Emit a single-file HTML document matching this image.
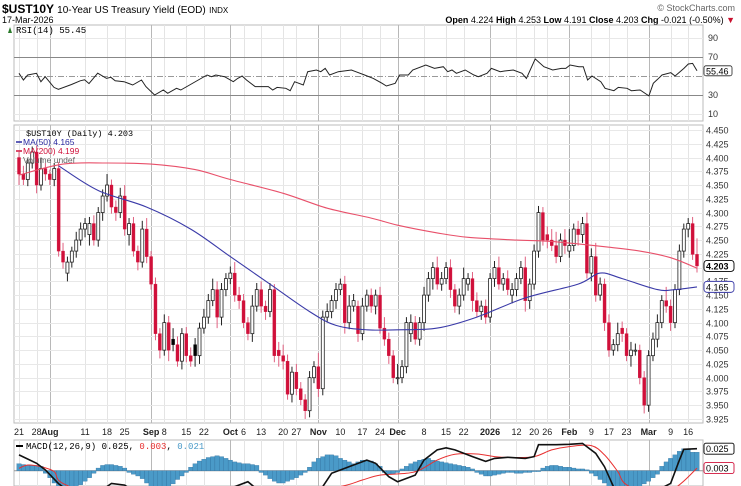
<!DOCTYPE html>
<html><head><meta charset="utf-8"><style>
html,body{margin:0;padding:0;background:#fff;}
svg{display:block;font-family:"Liberation Sans",sans-serif;}
</style></head><body>
<svg id="chart" width="741" height="486" viewBox="0 0 741 486" xmlns="http://www.w3.org/2000/svg">
<rect x="0" y="0" width="741" height="486" fill="#fff"/>
<g>
<text x="2" y="13" font-size="12" font-weight="bold">$UST10Y <tspan font-weight="normal" font-size="10">10-Year US Treasury Yield (EOD)</tspan> <tspan font-weight="normal" font-size="8">INDX</tspan></text>
<text x="735" y="11" font-size="9" fill="#666" text-anchor="end">© StockCharts.com</text>
<text x="2" y="23" font-size="9">17-Mar-2026</text>
<text x="735" y="23" font-size="9" text-anchor="end"><tspan font-weight="bold">Open</tspan> 4.224 <tspan font-weight="bold">High</tspan> 4.253 <tspan font-weight="bold">Low</tspan> 4.191 <tspan font-weight="bold">Close</tspan> 4.203 <tspan font-weight="bold">Chg</tspan> -0.021 (-0.50%) <tspan fill="#c8102e">▼</tspan></text>
</g>
<g id="grid"></g>
<g id="rsi"></g>
<g id="price"></g>
<g id="dates"></g>
<g id="macd"></g>
</svg>
<script>
const close=[4.37,4.36,4.39,4.41,4.35,4.38,4.37,4.36,4.38,4.23,
4.21,4.21,4.23,4.25,4.27,4.28,4.28,4.25,4.30,4.33,
4.35,4.31,4.30,4.33,4.27,4.28,4.23,4.21,4.27,4.22,
4.17,4.08,4.05,4.10,4.05,4.06,4.03,4.08,4.04,4.03,
4.04,4.09,4.11,4.14,4.16,4.11,4.16,4.18,4.19,4.15,
4.14,4.10,4.08,4.13,4.16,4.13,4.12,4.16,4.04,4.04,
4.03,3.97,4.01,3.98,3.96,3.94,4.00,4.02,3.98,4.11,
4.12,4.14,4.16,4.17,4.10,4.13,4.14,4.08,4.13,4.15,
4.13,4.15,4.09,4.07,4.04,4.00,4.00,4.02,4.10,4.10,
4.07,4.10,4.15,4.18,4.20,4.17,4.18,4.20,4.16,4.13,
4.15,4.18,4.18,4.14,4.12,4.13,4.11,4.18,4.20,4.17,
4.18,4.16,4.16,4.18,4.20,4.14,4.17,4.23,4.30,4.25,
4.25,4.24,4.22,4.25,4.24,4.24,4.27,4.26,4.28,4.19,
4.22,4.15,4.17,4.10,4.05,4.06,4.08,4.08,4.04,4.05,
4.05,4.00,3.95,4.04,4.07,4.10,4.14,4.13,4.10,4.16,
4.23,4.27,4.28,4.224,4.203];
const open=[4.40,4.37,4.36,4.39,4.41,4.35,4.38,4.37,4.36,4.38,
4.23,4.19,4.21,4.23,4.25,4.27,4.26,4.28,4.25,4.30,
4.33,4.35,4.31,4.30,4.33,4.26,4.28,4.23,4.21,4.27,
4.22,4.17,4.08,4.05,4.10,4.07,4.06,4.03,4.08,4.04,
4.06,4.04,4.09,4.11,4.14,4.16,4.11,4.16,4.18,4.19,
4.15,4.14,4.10,4.08,4.13,4.16,4.13,4.12,4.16,4.05,
4.04,4.03,3.97,4.01,3.98,3.96,3.94,4.00,4.02,3.98,
4.11,4.12,4.14,4.16,4.17,4.10,4.13,4.13,4.08,4.13,
4.15,4.13,4.15,4.09,4.07,4.04,4.00,4.00,4.02,4.08,
4.10,4.07,4.10,4.15,4.18,4.20,4.17,4.18,4.20,4.16,
4.13,4.15,4.17,4.18,4.14,4.12,4.13,4.11,4.18,4.20,
4.17,4.18,4.15,4.16,4.18,4.20,4.14,4.17,4.23,4.30,
4.26,4.25,4.24,4.22,4.25,4.23,4.24,4.27,4.26,4.28,
4.19,4.22,4.15,4.17,4.10,4.05,4.06,4.09,4.08,4.04,
4.05,4.05,4.00,3.95,4.04,4.07,4.10,4.14,4.13,4.10,
4.16,4.23,4.27,4.28,4.224];
const upWick=[10,15,8,10,12,20,10,8,10,12,15,10,8,15,12,10,12,15,10,12,20,10,12,15,20,10,12,10,15,20,10,12,10,15,12,20,15,10,12,15,12,10,15,12,20,15,12,10,12,20,15,12,10,20,12,15,10,12,10,15,20,12,10,15,12,10,12,10,25,12,15,10,12,10,15,20,12,10,15,10,12,10,15,20,12,10,25,12,10,15,12,10,15,12,10,20,12,10,15,10,12,20,10,12,15,10,12,10,12,20,10,15,12,10,12,20,10,12,12,10,15,20,25,12,20,30,10,15,12,20,15,25,12,10,15,10,20,12,10,15,12,10,12,10,12,15,10,25,12,10,12,10,10,12,29];
const downWick=[20,10,12,10,15,10,12,10,12,10,12,15,10,12,10,15,20,10,12,15,10,12,15,10,12,20,10,15,10,12,10,12,15,10,20,12,10,15,12,10,20,15,10,12,10,20,15,12,10,12,15,10,12,15,10,12,15,10,12,20,15,10,15,12,10,15,12,10,15,12,10,12,15,10,20,12,10,15,12,10,12,15,10,12,15,10,12,10,12,15,10,12,15,12,20,10,12,10,15,12,15,10,12,20,10,15,12,10,15,10,12,10,15,12,10,20,15,10,12,10,15,10,12,10,15,12,10,20,15,10,15,12,10,15,12,10,12,15,10,20,10,12,15,12,10,15,10,12,15,10,10,12,15,10,12];
const maIdx=[0,10,20,30,40,48,60,70,80,86,95,102,113,120,127,134,141,148,154];
const ma200=[4.368,4.388,4.39,4.388,4.378,4.36,4.335,4.308,4.29,4.277,4.263,4.255,4.25,4.248,4.243,4.237,4.23,4.218,4.199];
const ma50Idx=[9,18,29,39,48,57,66,72,79,86,95,104,115,127,132,137,145,149,154];
const ma50=[4.385,4.34,4.31,4.27,4.22,4.17,4.12,4.095,4.087,4.087,4.09,4.11,4.145,4.17,4.19,4.18,4.16,4.16,4.165];
const priceTicks=[4.450,4.425,4.400,4.375,4.350,4.325,4.300,4.275,4.250,4.225,4.200,4.175,4.150,4.125,4.100,4.075,4.050,4.025,4.000,3.975,3.950,3.925];
const rsiIdx=[0,1,2,4,5,6,8,9,12,14,15,16,18,20,21,22,24,26,28,29,31,33,34,36,37,39,41,43,44,45,47,49,50,51,52,54,57,58,59,61,62,63,65,66,68,69,70,71,73,76,77,79,81,83,84,86,87,89,90,93,95,97,98,99,100,102,104,105,107,108,110,111,113,115,116,118,120,122,124,125,126,128,129,130,131,133,134,136,137,139,140,142,144,145,146,147,149,150,152,153,154,155];
const rsiVal=[52.8,45.8,51,52.8,44,49.3,38,36,41,45,46,42,53,47.5,48.6,45,44,40.5,45.8,38.8,30,35.3,31.8,37,35.3,40.5,45.8,51,49.3,51,49.3,44,47.5,50,45.8,38.8,38.8,35.3,38,37,34.5,44,40.5,54.5,56.3,54.5,58,51,54.5,56.3,54.5,51,47.5,42.3,39.5,42.3,51,51,56.3,61.6,58,59.8,54.5,56.3,52.8,56.3,51,49.3,52.8,58,54.5,55.3,56.3,52.8,47.5,68,59.8,56.3,58,58,61.6,59.8,59.8,45.8,50,44,37,34.5,38,37,34.5,35.3,29,42.3,46.5,51,53.5,50,58,62.6,63.3,55.45];
const rsiTicks=[90,70,50,30,10];
const hist=[8,7,6,6,6,5,-3,-8,-14,-20,-25,-25,-24,-20,-16,-12,-8,-3,3,6,7,7,6,5,3,-2,-4,-6,-9,-14,-18,-20,-22,-20,-18,-15,-10,-6,-2,4,8,11,13,15,16,17,16,14,12,10,9,8,8,7,6,-2,-5,-9,-12,-14,-14,-12,-10,-8,-5,-2,4,10,14,16,18,18,17,14,12,10,8,10,12,12,11,8,5,-2,-4,-4,-2,2,5,8,10,12,13,14,12,11,10,9,8,7,6,5,4,2,-2,-4,-6,-6,-5,-4,-3,-2,-2,-3,-3,-2,-2,-1,-1,3,5,6,6,5,4,4,3,2,2,1,-3,-6,-10,-14,-18,-22,-25,-25,-24,-22,-20,-18,-15,-12,-8,-4,5,10,14,18,22,25,24,21,21];
const macdIdx=[0,4,6,9,13,18,21,24,28,40,48,52,55,62,67,69,71,76,79,81,84,86,90,92,95,97,99,103,106,108,111,115,117,118,122,125,128,131,133,135,140,148,150,151,154];
const macdVal=[18,8.4,0.8,-14.8,-30,-25,-14.4,-16.4,-30,-35,-20,-12.5,-25,-30,-25,-18,-3,6.5,12,8.4,-6.8,-12.5,-5,12,23.6,26,23.6,16,10.6,14,15.2,14,16,29.6,29.6,30,31,19.8,4.6,-18,-35,-14.4,12,24.3,25];
const sigIdx=[0,2,5,8,10,20,40,60,73,78,82,88,91,95,99,104,108,112,117,121,125,130,133,136,138,145,150,154];
const sigVal=[2.7,6.5,4.6,-1,-14.4,-30,-30,-28,-18,-10.6,-5,-3,0.8,12,18.6,19,16,15,16,23.6,27.4,28.5,17.9,-1,-16,-30,-16,3];
const dateIdx=[0,4,7,15,20,24,30,33,38,42,48,51,55,60,63,68,73,78,82,86,92,97,101,107,113,117,120,125,130,134,138,143,148,152];
const dateLbl=["21","28","Aug","11","18","25","Sep","8","15","22","Oct","6","13","20","27","Nov","10","17","24","Dec","8","15","22","2026","12","20","26","Feb","9","17","23","Mar","9","16"];
const dateMajor=[0,0,1,0,0,0,1,0,0,0,1,0,0,0,0,1,0,0,0,1,0,0,0,1,0,0,0,1,0,0,0,1,0,0];

const NS="http://www.w3.org/2000/svg";
function mk(p,tag,at){const e=document.createElementNS(NS,tag);for(const k in at)e.setAttribute(k,at[k]);p.appendChild(e);return e;}
const N=close.length, L=14, R=703;
function xC(i){return 19+i*(678/(N-1));}
function yP(p){return 130+(4.45-p)*550.4;}
function yR(v){return 57+(70-v)*0.95;}
function yM(v){return 470.7-v*0.88;}
function smooth(pts){
 let d='M'+pts[0][0].toFixed(1)+','+pts[0][1].toFixed(1);
 for(let i=0;i<pts.length-1;i++){
  const p0=pts[i-1]||pts[i],p1=pts[i],p2=pts[i+1],p3=pts[i+2]||p2;
  const c1x=p1[0]+(p2[0]-p0[0])/6,c1y=p1[1]+(p2[1]-p0[1])/6;
  const c2x=p2[0]-(p3[0]-p1[0])/6,c2y=p2[1]-(p3[1]-p1[1])/6;
  d+=' C'+c1x.toFixed(1)+','+c1y.toFixed(1)+' '+c2x.toFixed(1)+','+c2y.toFixed(1)+' '+p2[0].toFixed(1)+','+p2[1].toFixed(1);
 }
 return d;
}

const grid=document.getElementById('grid');
const panels=[[25,121],[125,423],[440,486]];
panels.forEach(function(pp,k){
 const r=mk(grid,'rect',{x:L,y:pp[0],width:R-L,height:pp[1]-pp[0],fill:'#fff',stroke:'#bbb','stroke-width':1});
 
 
});
dateIdx.forEach(function(d,k){
 const x=Math.round(xC(d))+0.5;
 panels.forEach(function(pp){
  const l=mk(grid,'line',{x1:x,x2:x,y1:pp[0],y2:pp[1],stroke:dateMajor[k]?'#b8b8b8':'#e4e4e4','stroke-width':1});
  
  
 });
});
priceTicks.forEach(function(t){
 const y=Math.round(yP(t))+0.5;
 const l=mk(grid,'line',{x1:L,x2:R,y1:y,y2:y,stroke:'#e8e8e8'});
 
 
 const tx=mk(grid,'text',{x:706,y:y+3,'font-size':9,fill:'#333'});
 tx.textContent=t.toFixed(3);
 
 
});

const rg=document.getElementById('rsi');
[10,30,50,70,90].forEach(function(v){
 const y=Math.round(yR(v))+0.5;
 const l=mk(rg,'line',{x1:L,x2:R,y1:y,y2:y,stroke:(v==30||v==70)?'#888':(v==50?'#999':'#e8e8e8'),'stroke-dasharray':v==50?'6,2,1,2':'none'});
 
 
});
rsiTicks.forEach(function(v){
 if(v==50)return;
 const t=mk(rg,'text',{x:708,y:yR(v)+3,'font-size':9,fill:'#333'});
 t.textContent=v;
 
 
});
const rsiX=function(i){return 19+i*(678/155);};
const rp=mk(rg,'polyline',{points:rsiIdx.map(function(d,k){return rsiX(d).toFixed(1)+','+yR(rsiVal[k]).toFixed(1);}).join(' '),fill:'none',stroke:'#222','stroke-width':1});


const rb=mk(rg,'rect',{x:704,y:yR(55.45)-5,width:28,height:10,fill:'#fff',stroke:'#222','stroke-width':0.8,rx:2});


const rbt=mk(rg,'text',{x:706,y:yR(55.45)+3.5,'font-size':9});
rbt.textContent='55.46';


const rl=mk(rg,'text',{x:16,y:33,'font-size':9,'font-family':'Liberation Mono, monospace'});
rl.textContent='RSI(14) 55.45';


const rlIcon=mk(rg,'path',{d:'M8 33 L10 27 L12 33 Z',fill:'#2a7a2a'});



const pg=document.getElementById('price');
const clipDef=mk(pg,'clipPath',{id:'pclip'});
mk(clipDef,'rect',{x:L,y:125,width:R-L,height:298});
const inner=mk(pg,'g',{'clip-path':'url(#pclip)'});
for(let i=0;i<N;i++){
 const o=open[i],c=close[i];
 const hi=Math.max(o,c)+upWick[i]/1000, lo=Math.min(o,c)-downWick[i]/1000;
 const up=c>=o;
 const prev=i>0?close[i-1]:o;
 const col=up?'#000':(c>prev?'#000':'#d0103a');
 const fill=up?'#fff':col;
 const x=xC(i);
 const w=mk(inner,'line',{x1:x,x2:x,y1:yP(hi),y2:yP(lo),stroke:up?'#222':(col=='#000'?'#222':'#e06080'),'stroke-width':1});
 
 
 const yt=yP(Math.max(o,c)), yb=yP(Math.min(o,c));
 const b=mk(inner,'rect',{x:x-1.5,y:yt,width:3,height:Math.max(1,yb-yt),fill:fill,stroke:up?'#222':col,'stroke-width':up?0.8:0.4});
 
 
}
const m200=mk(inner,'path',{d:smooth(maIdx.map(function(d,k){return [xC(d),yP(ma200[k])];})),fill:'none',stroke:'#e8506a','stroke-width':1.1});


const m50=mk(inner,'path',{d:smooth(ma50Idx.map(function(d,k){return [xC(d),yP(ma50[k])];})),fill:'none',stroke:'#3a3aa8','stroke-width':1.1});


[['4.203',4.203,'#000'],['4.165',4.165,'#3a3aa8']].forEach(function(a){
 const y=yP(a[1]);
 const bx=mk(pg,'rect',{x:704,y:y-5.5,width:30,height:11,fill:'#fff',stroke:a[2],'stroke-width':0.9,rx:3});
 
 
 const t=mk(pg,'text',{x:706,y:y+3.5,'font-size':9,'font-weight':a[2]=='#000'?'bold':'normal',fill:'#000'});
 t.textContent=a[0];
 
 
});
const legRows=[['$UST10Y (Daily) 4.203','#000'],['MA(50) 4.165','#2a2aa0'],['MA(200) 4.199','#d0103a'],['Volume undef','#666']];
legRows.forEach(function(r,k){
 const t=mk(pg,'text',{x:k==0?26:23,y:136+k*9,'font-size':8.5,fill:r[1],'font-family':k==0?'Liberation Mono, monospace':'Liberation Sans, sans-serif'});
 t.textContent=r[0];
 
 
 if(k==1||k==2){const l=mk(pg,'line',{x1:16,x2:22,y1:133+k*9,y2:133+k*9,stroke:r[1],'stroke-width':1.5});
 
 }
});

const dg=document.getElementById('dates');
dateIdx.forEach(function(d,k){
 const t=mk(dg,'text',{x:xC(d),y:435,'font-size':9,'text-anchor':'middle','font-weight':dateMajor[k]?'bold':'normal',fill:'#222'});
 t.textContent=dateLbl[k];
 
 
});

const mg=document.getElementById('macd');
const mc=mk(mg,'clipPath',{id:'mclip'});
mk(mc,'rect',{x:L,y:440,width:R-L,height:46});
const mi=mk(mg,'g',{'clip-path':'url(#mclip)'});
const zl=mk(mi,'line',{x1:L,x2:R,y1:470.7,y2:470.7,stroke:'#999'});


const bw=678/(N-1);
for(let i=0;i<hist.length;i++){
 const y0=yM(0), y1=yM(hist[i]);
 const b=mk(mi,'rect',{x:xC(i)-bw/2,y:Math.min(y0,y1),width:bw,height:Math.abs(y1-y0),fill:'#4a9ac8',stroke:'#2a6a98','stroke-width':0.3});
 
 
}
const sl=mk(mi,'path',{d:smooth(sigIdx.map(function(d,k){return [xC(d),yM(sigVal[k])];})),fill:'none',stroke:'#e83030','stroke-width':1});


const ml=mk(mi,'polyline',{points:macdIdx.map(function(d,k){return xC(d).toFixed(1)+','+yM(macdVal[k]).toFixed(1);}).join(' '),fill:'none',stroke:'#111','stroke-width':1.6});


[['0.025',25,'#000'],['0.003',3,'#d0103a']].forEach(function(a){
 const y=yM(a[1]);
 const bx=mk(mg,'rect',{x:704,y:y-5.5,width:30,height:11,fill:'#fff',stroke:a[2],'stroke-width':0.9,rx:2});
 
 
 const t=mk(mg,'text',{x:706,y:y+3.5,'font-size':9,fill:'#000'});
 t.textContent=a[0];
 
 
});
const leg=mk(mg,'text',{x:26,y:449,'font-size':9,'font-family':'Liberation Mono, monospace'});
leg.innerHTML='MACD(12,26,9) 0.025, <tspan fill="#e83030">0.003</tspan>, <tspan fill="#4a9ac8">0.021</tspan>';


const legSw=mk(mg,'line',{x1:16,x2:23,y1:446,y2:446,stroke:'#000','stroke-width':2});


</script>
</body></html>
